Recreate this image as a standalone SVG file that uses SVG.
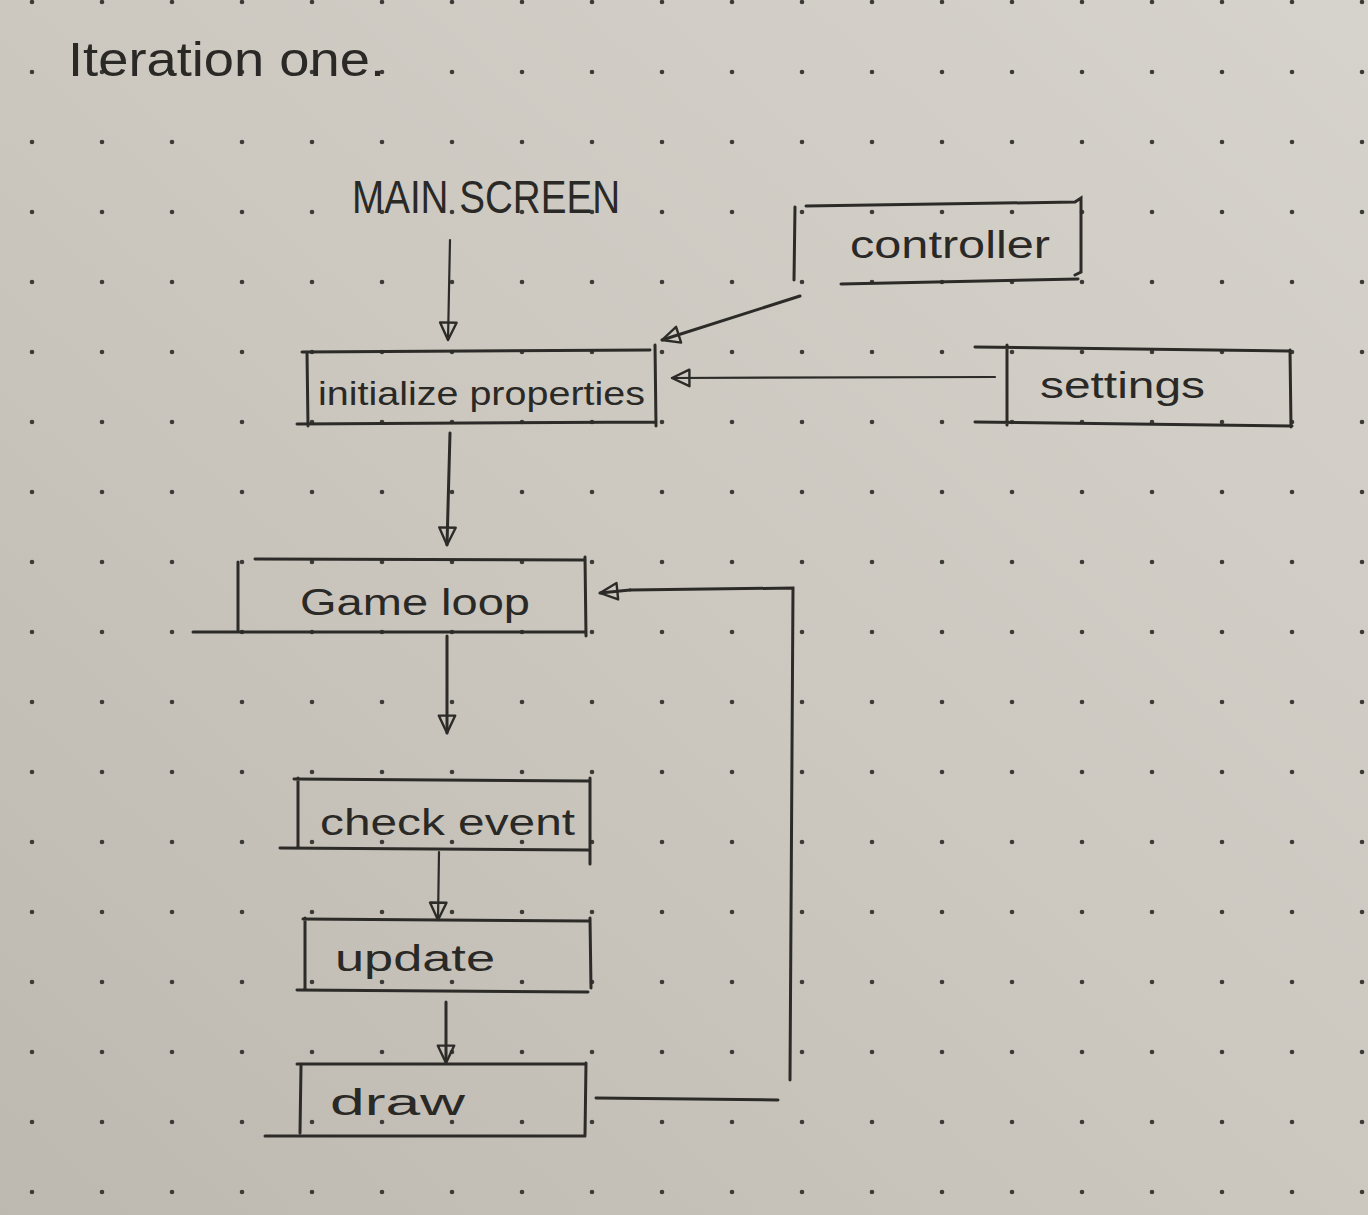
<svg xmlns="http://www.w3.org/2000/svg" width="1368" height="1215" viewBox="0 0 1368 1215">
  <defs>
    <linearGradient id="paper" x1="1" y1="0" x2="0" y2="1">
      <stop offset="0" stop-color="#d6d3cc"/>
      <stop offset="0.5" stop-color="#ccc8c0"/>
      <stop offset="1" stop-color="#bdb9b1"/>
    </linearGradient>
    <pattern id="dots" patternUnits="userSpaceOnUse" x="-3" y="-33" width="70" height="70">
      <circle cx="35" cy="35" r="2.3" fill="#3b3a36"/>
    </pattern>
    <marker id="head" viewBox="0 0 24 24" refX="22" refY="12" markerWidth="22" markerHeight="22" markerUnits="userSpaceOnUse" orient="auto">
      <path d="M3,3 L22,12 L3,21 Z" fill="none" stroke="#2c2b28" stroke-width="2.6" stroke-linejoin="round"/>
    </marker>
    <style>
      .ink { stroke: #2c2b28; stroke-width: 3; fill: none; stroke-linecap: round; }
      .thin { stroke: #2c2b28; stroke-width: 2.2; fill: none; stroke-linecap: round; }
      .lbl { font-family: "Liberation Sans", "DejaVu Sans", sans-serif; fill: #2a2926; }
    </style>
  </defs>

  <rect width="1368" height="1215" fill="url(#paper)"/>
  <rect width="1368" height="1215" fill="url(#dots)"/>

  <g id="title">
    <text class="lbl" x="68" y="76" font-size="48" textLength="317" lengthAdjust="spacingAndGlyphs">Iteration one.</text>
  </g>

  <g id="main-screen">
    <text class="lbl" x="352" y="213" font-size="46" textLength="268" lengthAdjust="spacingAndGlyphs">MAIN SCREEN</text>
  </g>

  <g id="initialize-properties">
    <path class="ink" d="M302,352 L650,350 M307,352 L308,426 M297,424 L656,422 M655,345 L656,426"/>
    <text class="lbl" x="318" y="405" font-size="34" textLength="327" lengthAdjust="spacingAndGlyphs">initialize properties</text>
  </g>

  <g id="controller">
    <path class="ink" d="M795,207 L794,280 M806,206 L1075,202 L1081,198 L1081,272 L1075,275 M841,284 L1078,279"/>
    <text class="lbl" x="850" y="258" font-size="38" textLength="200" lengthAdjust="spacingAndGlyphs">controller</text>
  </g>

  <g id="settings">
    <path class="ink" d="M975,347 L1288,351 M1007,345 L1007,425 M1290,350 L1291,427 M975,422 L1292,426"/>
    <text class="lbl" x="1040" y="398" font-size="36" textLength="165" lengthAdjust="spacingAndGlyphs">settings</text>
  </g>

  <g id="game-loop">
    <path class="ink" d="M255,559 L585,560 M238,562 L238,630 M193,632 L586,632 M585,557 L586,636"/>
    <text class="lbl" x="300" y="615" font-size="36" textLength="230" lengthAdjust="spacingAndGlyphs">Game loop</text>
  </g>

  <g id="check-event">
    <path class="ink" d="M294,779 L589,781 M298,778 L298,848 M280,848 L588,850 M590,778 L590,864"/>
    <text class="lbl" x="320" y="835" font-size="36" textLength="255" lengthAdjust="spacingAndGlyphs">check event</text>
  </g>

  <g id="update">
    <path class="ink" d="M303,919 L589,921 M305,918 L305,990 M297,990 L588,992 M590,918 L591,988"/>
    <text class="lbl" x="335" y="971" font-size="36" textLength="160" lengthAdjust="spacingAndGlyphs">update</text>
  </g>

  <g id="draw">
    <path class="ink" d="M297,1064 L584,1064 M301,1066 L300,1133 M265,1136 L585,1136 M586,1063 L585,1135"/>
    <text class="lbl" x="330" y="1115" font-size="36" textLength="135" lengthAdjust="spacingAndGlyphs">draw</text>
  </g>

  <g id="connectors">
    <line class="thin" x1="450" y1="240" x2="448" y2="340" marker-end="url(#head)"/>
    <line class="ink" x1="800" y1="296" x2="662" y2="340" marker-end="url(#head)"/>
    <line class="thin" x1="995" y1="377" x2="672" y2="378" marker-end="url(#head)"/>
    <line class="ink" x1="450" y1="433" x2="447" y2="545" marker-end="url(#head)"/>
    <line class="ink" x1="447" y1="636" x2="447" y2="733" marker-end="url(#head)"/>
    <line class="thin" x1="439" y1="852" x2="438" y2="920" marker-end="url(#head)"/>
    <line class="ink" x1="446" y1="1002" x2="446" y2="1063" marker-end="url(#head)"/>
    <polyline class="ink" points="596,1098 778,1100"/>
    <polyline class="ink" points="790,1080 793,588 630,590"/>
    <line class="ink" x1="630" y1="590" x2="600" y2="593" marker-end="url(#head)"/>
  </g>
</svg>
